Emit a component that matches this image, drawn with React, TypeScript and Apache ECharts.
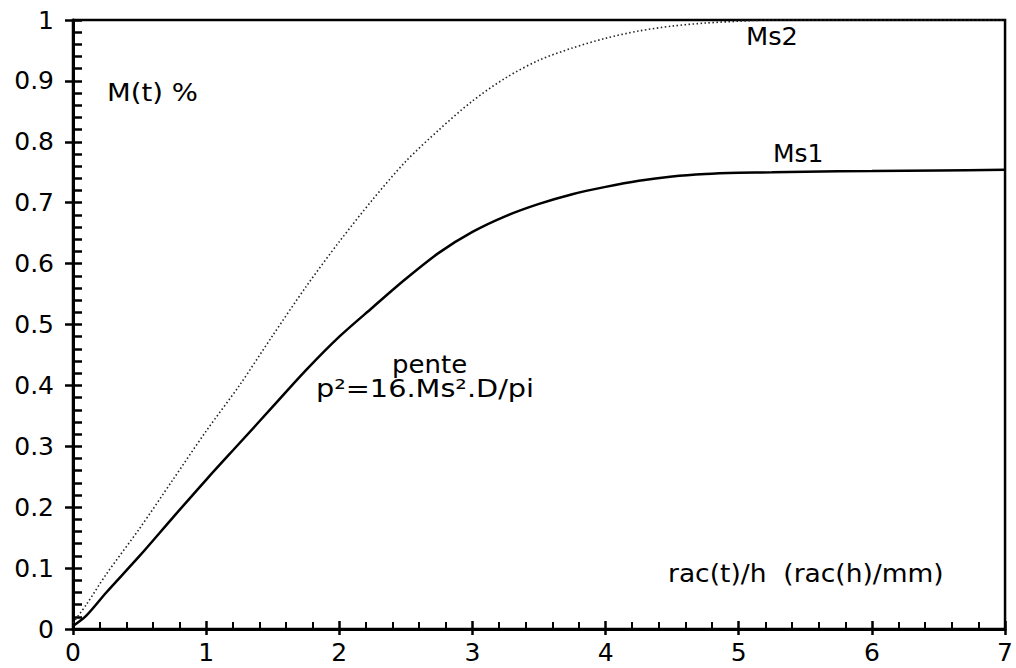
import React, { useEffect, useRef } from "react";
import * as echarts from "echarts";

const xValues = [0, 0.1, 0.25, 0.5, 0.75, 1.0, 1.25, 1.5, 1.75, 2.0, 2.25, 2.5, 2.75, 3.0, 3.25, 3.5, 3.75, 4.0, 4.25, 4.5, 4.75, 5.0, 5.25, 5.5, 6.0, 6.5, 7.0];
const ms1Values = [0.005, 0.022, 0.06, 0.12, 0.183, 0.245, 0.305, 0.365, 0.425, 0.48, 0.528, 0.575, 0.618, 0.652, 0.678, 0.698, 0.714, 0.726, 0.736, 0.743, 0.747, 0.749, 0.75, 0.751, 0.752, 0.753, 0.754];
const ms2Values = [0.01, 0.04, 0.09, 0.165, 0.245, 0.325, 0.4, 0.482, 0.562, 0.636, 0.705, 0.768, 0.82, 0.867, 0.905, 0.934, 0.954, 0.97, 0.982, 0.99, 0.995, 0.998, 1.0, 1.0, 1.0, 1.0, 1.0];

const FONT = "DejaVu Sans";

export default function App() {
  const ref = useRef<HTMLDivElement>(null);
  useEffect(() => {
    if (!ref.current) return;
    const chart = echarts.init(ref.current, null, { renderer: "svg" });
    const black = "#000";
    const mkPairs = (ys: number[]) => xValues.map((x, i) => [x, ys[i]]);
    const txt = (t: string, left: number, top: number, sx = 1, size = 25) => ({
      type: "text", left, top, scaleX: sx,
      style: { text: t, fill: black, font: `${size}px "${FONT}"` },
    });
    chart.setOption({
      animation: false,
      backgroundColor: "#fff",
      grid: {
        left: 73, right: 9, top: 20, bottom: 39,
        show: true, borderColor: black, borderWidth: 2.5, backgroundColor: "transparent",
      },
      xAxis: [
        {
          type: "value", min: 0, max: 7, interval: 1, position: "bottom",
          axisLine: { show: true, lineStyle: { color: black, width: 3 } },
          axisTick: { show: true, inside: true, length: 8, lineStyle: { color: black, width: 2.5 } },
          minorTick: { show: true, splitNumber: 5, length: 7, lineStyle: { color: black, width: 2 } },
          splitLine: { show: false },
          axisLabel: { color: black, fontSize: 25, fontFamily: FONT, margin: 11 },
        },
        {
          type: "value", min: 0, max: 7, interval: 1, position: "bottom",
          axisLine: { show: false },
          axisTick: { show: true, inside: false, length: 6, lineStyle: { color: black, width: 2.5 } },
          splitLine: { show: false },
          axisLabel: { show: false },
        },
      ],
      yAxis: [
        {
          type: "value", min: 0, max: 1, interval: 0.1, position: "left",
          axisLine: { show: true, lineStyle: { color: black, width: 3 } },
          axisTick: { show: true, inside: true, length: 9, lineStyle: { color: black, width: 2.5 } },
          minorTick: { show: true, splitNumber: 5, length: 9, lineStyle: { color: black, width: 2.5 } },
          splitLine: { show: false },
          axisLabel: { color: black, fontSize: 25, fontFamily: FONT, margin: 19 },
        },
        {
          type: "value", min: 0, max: 1, interval: 0.1, position: "left",
          axisLine: { show: false },
          axisTick: { show: true, inside: false, length: 8, lineStyle: { color: black, width: 2.5 } },
          splitLine: { show: false },
          axisLabel: { show: false },
        },
      ],
      series: [
        {
          name: "Ms1", type: "line", xAxisIndex: 0, yAxisIndex: 0,
          data: mkPairs(ms1Values), showSymbol: false, smooth: 0.3,
          lineStyle: { color: black, width: 2.5 },
        },
        {
          name: "Ms2", type: "line", xAxisIndex: 0, yAxisIndex: 0,
          data: mkPairs(ms2Values), showSymbol: false, smooth: 0.3,
          lineStyle: { color: "#222", width: 1.6, type: [1.5, 2.5] },
        },
      ],
      graphic: [
        txt("M(t) %", 107, 80, 1.1),
        txt("Ms2", 746, 24, 1.03),
        txt("Ms1", 773, 141, 1.0),
        txt("pente", 392, 352, 1.04),
        txt("p²=16.Ms².D/pi", 316, 376, 1.15),
        txt("rac(t)/h  (rac(h)/mm)", 668, 561, 1.06),
      ],
    });
    return () => chart.dispose();
  }, []);
  return <div ref={ref} style={{ position: "fixed", left: 0, top: 0, width: 1016, height: 668 }} />;
}
